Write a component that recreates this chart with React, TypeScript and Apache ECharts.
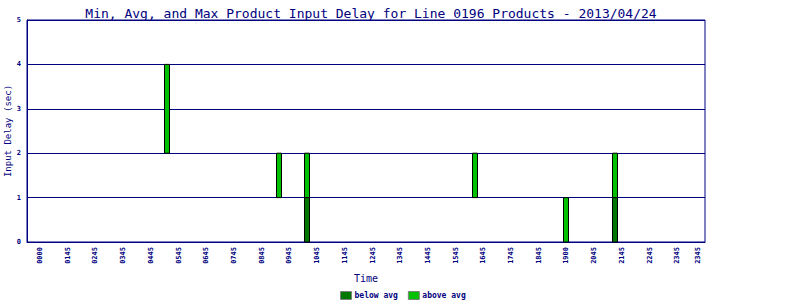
import React, { useEffect, useRef } from "react";
import * as echarts from "echarts";

const tickLabels = ["0000","0145","0245","0345","0445","0545","0645","0745","0845","0945","1045","1145","1245","1345","1445","1545","1645","1745","1845","1900","2045","2145","2245","2345","2345"];
const tickPositions = [0,1,2,3,4,5,6,7,8,9,10,11,12,13,14,15,16,17,18,19,20,21,22,23,23.75];
const times = [4.58, 8.63, 9.64, 15.7, 18.99, 20.76];
const minDelay = [2, 1, 0, 1, 0, 0];
const avgDelay = [2, 1, 1, 1, 0, 1];
const maxDelay = [4, 2, 2, 2, 1, 2];

const NAVY = "#000080";
const FONT = "DejaVu Sans Mono";
const DARK = "#007800";
const LIGHT = "#00c000";

export default function App() {
  const ref = useRef<HTMLDivElement>(null);
  useEffect(() => {
    if (!ref.current) return;
    const chart = echarts.init(ref.current, null, { renderer: "svg" });
    const below: number[][] = [];
    const above: number[][] = [];
    times.forEach((t, i) => {
      if (avgDelay[i] > minDelay[i]) below.push([t, minDelay[i], avgDelay[i]]);
      if (maxDelay[i] > avgDelay[i]) above.push([t, avgDelay[i], maxDelay[i]]);
    });
    const renderItem = (params: any, api: any) => {
      const x = api.value(0);
      const p0 = api.coord([x, api.value(1)]);
      const p1 = api.coord([x, api.value(2)]);
      return {
        type: "rect",
        shape: { x: Math.round(p0[0]) - 2.5, y: p1[1], width: 5, height: p0[1] - p1[1] },
        style: { fill: api.visual("color"), stroke: "#000000", lineWidth: 1 },
      };
    };
    chart.setOption({
      animation: false,
      backgroundColor: "#ffffff",
      title: {
        text: "Min, Avg, and Max Product Input Delay for Line 0196 Products - 2013/04/24",
        left: 366,
        top: 2,
        textAlign: "center",
        textStyle: { fontFamily: FONT, fontSize: 13, fontWeight: "normal", color: NAVY },
      },
      legend: {
        left: 335,
        top: 286,
        itemWidth: 11,
        itemHeight: 8,
        itemGap: 10,
        icon: "rect",
        data: [
          { name: "below avg", itemStyle: { color: DARK, borderColor: "#808080", borderWidth: 1 } },
          { name: "above avg", itemStyle: { color: LIGHT, borderColor: "#808080", borderWidth: 1 } },
        ],
        textStyle: { fontFamily: FONT, fontSize: 8, color: NAVY, fontWeight: "bold", padding: [0, 0, 0, -2] },
      },
      grid: {
        left: 27,
        right: 95,
        top: 20,
        bottom: 58,
        show: true,
        borderColor: NAVY,
        borderWidth: 1,
        containLabel: false,
        outerBoundsMode: "none",
      },
      xAxis: {
        type: "value",
        min: -0.47,
        max: 24.0,
        name: "Time",
        nameLocation: "middle",
        nameGap: 31,
        nameMoveOverlap: false,
        nameTextStyle: { fontFamily: FONT, fontSize: 10, color: NAVY },
        axisLine: { show: true, onZero: false, lineStyle: { color: NAVY, width: 1 } },
        axisTick: { show: false },
        splitLine: { show: false },
        axisLabel: {
          customValues: tickPositions,
          rotate: 90,
          margin: 5,
          fontFamily: FONT,
          fontSize: 7,
          fontWeight: "bold",
          color: NAVY,
          hideOverlap: false,
          formatter: (v: number) => {
            const idx = tickPositions.findIndex((p) => Math.abs(p - v) < 1e-6);
            return idx >= 0 ? tickLabels[idx] : "";
          },
        },
      },
      yAxis: {
        type: "value",
        min: 0,
        max: 5,
        interval: 1,
        name: "Input Delay (sec)",
        nameLocation: "middle",
        nameGap: 15,
        nameMoveOverlap: false,
        nameTextStyle: { fontFamily: FONT, fontSize: 9, color: NAVY },
        axisLine: { show: true, onZero: false, lineStyle: { color: NAVY } },
        axisTick: { show: false },
        splitLine: { show: true, lineStyle: { color: NAVY, width: 1 } },
        axisLabel: { fontFamily: FONT, fontSize: 7, fontWeight: "bold", color: NAVY, margin: 6 },
      },
      series: [
        {
          name: "below avg",
          type: "custom",
          renderItem,
          encode: { x: 0, y: [1, 2] },
          data: below,
          itemStyle: { color: DARK },
        },
        {
          name: "above avg",
          type: "custom",
          renderItem,
          encode: { x: 0, y: [1, 2] },
          data: above,
          itemStyle: { color: LIGHT },
        },
      ],
    });
    return () => chart.dispose();
  }, []);
  return <div ref={ref} style={{ width: 800, height: 300, position: "absolute", left: 0, top: 0 }} />;
}
